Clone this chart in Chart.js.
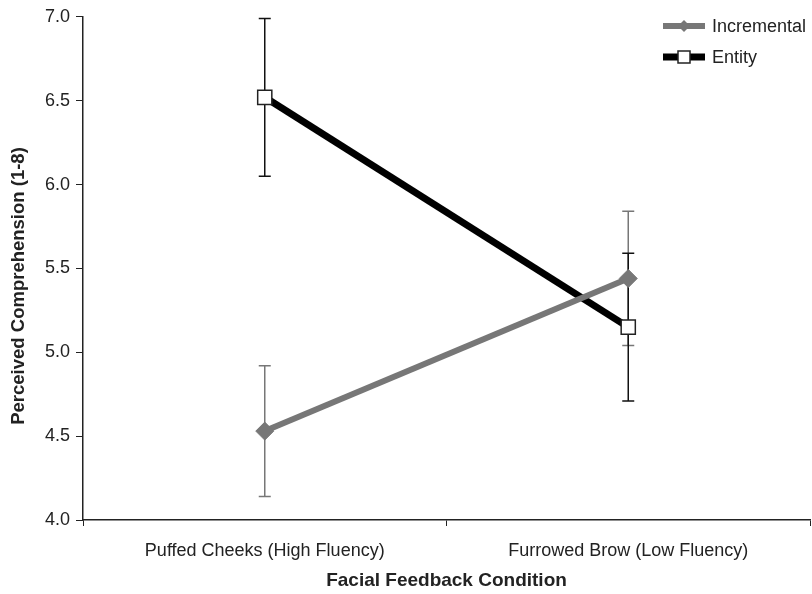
<!DOCTYPE html>
<html lang="en">
<head>
    <meta charset="UTF-8">
    <title>Chart</title>
    <style>
        body { margin: 0; background: #fff; }
        #wrap { width: 812px; height: 594px; }
    </style>
</head>
<body>
<div id="wrap">
    <canvas id="myChart"></canvas>
</div>

<script src="https://cdn.jsdelivr.net/npm/chart.js"></script>

<script>
    const labels = ['Puffed Cheeks (High Fluency)', 'Furrowed Brow (Low Fluency)'];
    const incremental = [4.53, 5.44];
    const incrementalErr = [0.39, 0.40];
    const entity = [6.52, 5.15];
    const entityErr = [0.47, 0.44];
    const yTitle = 'Perceived Comprehension (1-8)';

    const grey = '#777777';
    const fontFam = '"Liberation Sans", Arial, sans-serif';

    // error bars drawn from the same scales as the points
    const errorBars = {
        id: 'errorBars',
        beforeDatasetsDraw(chart) {
            const c = chart.ctx;
            const y = chart.scales.y;
            chart.data.datasets.forEach((ds, i) => {
                const meta = chart.getDatasetMeta(i);
                meta.data.forEach((pt, j) => {
                    const v = ds.data[j], e = ds.err[j];
                    const top = y.getPixelForValue(v + e);
                    const bot = y.getPixelForValue(v - e);
                    c.save();
                    c.strokeStyle = ds.errColor;
                    c.lineWidth = 1.5;
                    c.beginPath();
                    c.moveTo(pt.x, top); c.lineTo(pt.x, bot);
                    c.moveTo(pt.x - 6, top); c.lineTo(pt.x + 6, top);
                    c.moveTo(pt.x - 6, bot); c.lineTo(pt.x + 6, bot);
                    c.stroke();
                    c.restore();
                });
            });
        }
    };

    // legend inside the plot (top right) + y title, which sits a bit low in the original
    const extras = {
        id: 'extras',
        afterDraw(chart) {
            const c = chart.ctx;
            chart.data.datasets.forEach((ds, i) => {
                const yy = 26 + i * 31;
                c.save();
                c.strokeStyle = ds.borderColor;
                c.lineWidth = ds.borderWidth;
                c.beginPath();
                c.moveTo(663, yy); c.lineTo(705, yy);
                c.stroke();
                c.fillStyle = ds.pointBackgroundColor;
                c.strokeStyle = ds.pointBorderColor;
                c.lineWidth = 1.5;
                if (ds.pointStyle === 'rectRot') {
                    c.beginPath();
                    c.moveTo(684, yy - 6); c.lineTo(690, yy); c.lineTo(684, yy + 6); c.lineTo(678, yy);
                    c.closePath(); c.fill();
                } else {
                    c.fillRect(678, yy - 6, 12, 12);
                    c.strokeRect(678, yy - 6, 12, 12);
                }
                c.fillStyle = '#222';
                c.font = '18px ' + fontFam;
                c.textBaseline = 'middle';
                c.fillText(ds.label, 712, yy + 1);
                c.restore();
            });

            c.save();
            c.translate(19, 286);
            c.rotate(-Math.PI / 2);
            c.fillStyle = '#222';
            c.font = 'bold 18.5px ' + fontFam;
            c.textAlign = 'center';
            c.textBaseline = 'middle';
            c.fillText(yTitle, 0, 0);
            c.restore();
        }
    };

    const ctx = document.getElementById('myChart');

    new Chart(ctx, {
        type: 'line',
        data: {
            labels: labels,
            datasets: [
                {
                    label: 'Incremental',
                    data: incremental,
                    err: incrementalErr,
                    errColor: grey,
                    borderColor: grey,
                    borderWidth: 6,
                    pointStyle: 'rectRot',
                    pointRadius: 9,
                    pointBackgroundColor: grey,
                    pointBorderColor: grey,
                    pointBorderWidth: 1,
                    tension: 0
                },
                {
                    label: 'Entity',
                    data: entity,
                    err: entityErr,
                    errColor: '#111',
                    borderColor: '#000',
                    borderWidth: 7,
                    pointStyle: 'rect',
                    pointRadius: 10,
                    pointBackgroundColor: '#fff',
                    pointBorderColor: '#222',
                    pointBorderWidth: 1.5,
                    tension: 0
                }
            ]
        },
        options: {
            responsive: true,
            maintainAspectRatio: false,
            animation: false,
            layout: { autoPadding: false, padding: { left: 5, right: 2, top: 15, bottom: 0 } },
            plugins: {
                legend: { display: false },
                tooltip: { enabled: false }
            },
            scales: {
                x: {
                    offset: true,
                    grid: { offset: true, drawOnChartArea: false, color: '#222', tickLength: 6 },
                    border: { color: '#222', width: 1.5 },
                    ticks: { color: '#222', font: { size: 18, family: fontFam }, padding: 14 },
                    title: {
                        display: true,
                        text: 'Facial Feedback Condition',
                        color: '#222',
                        font: { size: 19, weight: 'bold', family: fontFam },
                        padding: { top: 6, bottom: 2 }
                    },
                    afterFit: s => { s.height = 74; }
                },
                y: {
                    min: 4,
                    max: 7,
                    ticks: {
                        stepSize: 0.5,
                        color: '#222',
                        font: { size: 18, family: fontFam },
                        callback: v => v.toFixed(1),
                        padding: 6
                    },
                    grid: { drawOnChartArea: false, color: '#222', tickLength: 7 },
                    border: { color: '#222', width: 1.5 },
                    afterFit: s => { s.width = 78; }
                }
            }
        },
        plugins: [errorBars, extras]
    });
</script>

</body>
</html>
